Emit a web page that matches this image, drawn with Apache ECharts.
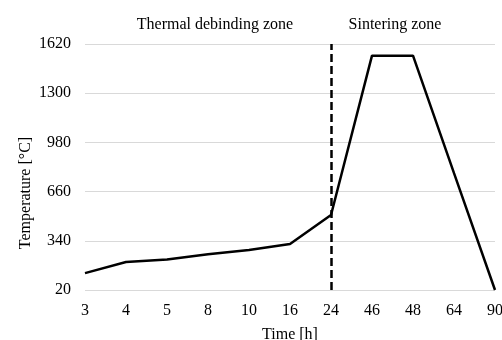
<!DOCTYPE html>
<html><head><meta charset="utf-8">
<script src="https://cdn.jsdelivr.net/npm/echarts@6/dist/echarts.min.js"></script>
<style>html,body{margin:0;padding:0;background:#fff}#c{width:502px;height:340px}</style>
</head><body><div id="c"></div>
<script>
const categories = ['3','4','5','8','10','16','24','46','48','64','90'];
const temperature = [130, 202, 218, 252, 280, 319, 508, 1544, 1544, 780, 20];
const yTicks = [20, 340, 660, 980, 1300, 1620];
const boundaryCategory = '24';
const zoneLabels = ['Thermal debinding zone', 'Sintering zone'];

const font = 'Liberation Serif';
const chart = echarts.init(document.getElementById('c'), null, {renderer: 'canvas'});
chart.setOption({
  animation: false,
  textStyle: {fontFamily: font},
  grid: {left: 85, right: 7, top: 44, bottom: 50, outerBoundsMode: 'none', containLabel: false},
  xAxis: {
    type: 'category', data: categories, boundaryGap: false,
    name: 'Time [h]', nameLocation: 'middle', nameGap: 37, nameMoveOverlap: false,
    nameTextStyle: {fontFamily: font, fontSize: 16, color: '#000'},
    axisLine: {show: false}, axisTick: {show: false},
    axisLabel: {fontFamily: font, fontSize: 16, color: '#000', margin: 13}
  },
  yAxis: {
    type: 'value', min: yTicks[0], max: yTicks[yTicks.length - 1], interval: 320,
    name: 'Temperature [°C]', nameLocation: 'middle', nameGap: 51, nameMoveOverlap: false,
    nameTextStyle: {fontFamily: font, fontSize: 16, color: '#000', padding: [0, 52, 0, 0]},
    axisLine: {show: false}, axisTick: {show: false},
    axisLabel: {fontFamily: font, fontSize: 16, color: '#000', margin: 14, formatter: v => String(v)},
    splitLine: {lineStyle: {color: '#d9d9d9', width: 1}}
  },
  series: [{
    type: 'line', data: temperature, symbol: 'none', clip: false,
    lineStyle: {color: '#000', width: 2.5},
    markLine: {
      silent: true, symbol: 'none',
      lineStyle: {color: '#000', width: 2.5, type: [8, 4]},
      label: {show: false},
      data: [[{coord: [boundaryCategory, yTicks[0]]}, {coord: [boundaryCategory, yTicks[yTicks.length - 1]]}]]
    }
  }],
  graphic: [
    {type: 'text', x: 215, y: 17, style: {text: zoneLabels[0], font: '16px "Liberation Serif"', fill: '#000', textAlign: 'center'}},
    {type: 'text', x: 395, y: 17, style: {text: zoneLabels[1], font: '16px "Liberation Serif"', fill: '#000', textAlign: 'center'}}
  ]
});
</script></body></html>
